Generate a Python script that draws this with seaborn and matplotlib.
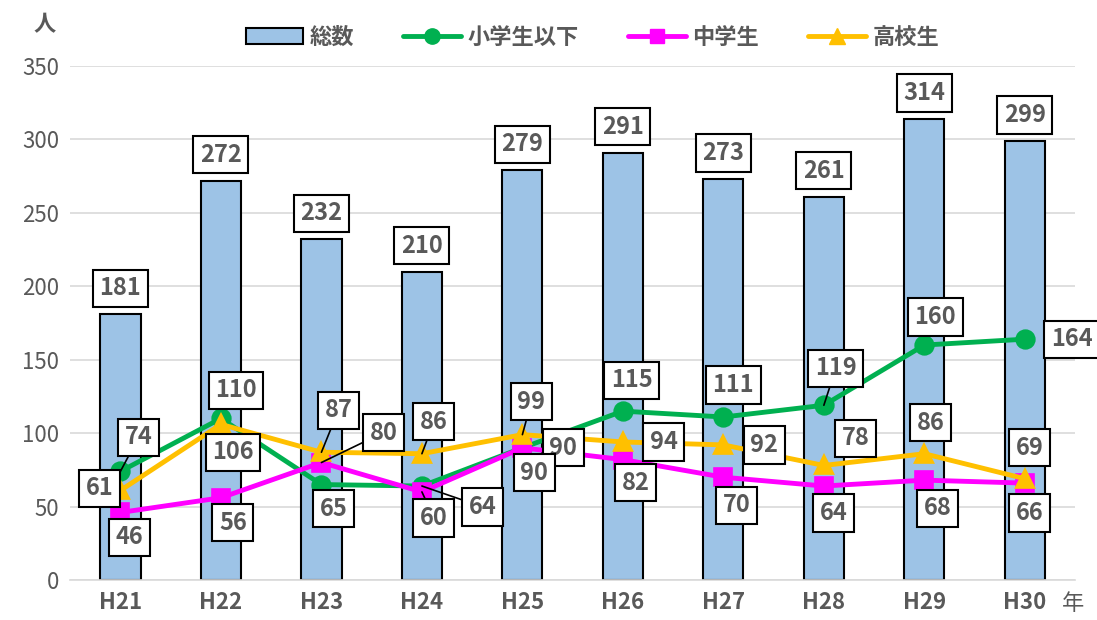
import matplotlib
matplotlib.use("Agg")
import matplotlib.pyplot as plt
import seaborn as sns
import pandas as pd
from matplotlib.patches import Patch
from matplotlib.lines import Line2D

# data
years = ["H21", "H22", "H23", "H24", "H25", "H26", "H27", "H28", "H29", "H30"]
total = [181, 272, 232, 210, 279, 291, 273, 261, 314, 299]
elem = [74, 110, 65, 64, 90, 115, 111, 119, 160, 164]      # 小学生以下
junior = [46, 56, 80, 60, 90, 82, 70, 64, 68, 66]          # 中学生
high = [61, 106, 87, 86, 99, 94, 92, 78, 86, 69]           # 高校生

# label offsets in pixels (dx, dy), and whether a leader line is drawn
elem_off = [(18, 34, True), (15, 28, False), (12, -24, False), (61, -21, True), (41, 0, False),
            (9, 31, False), (10, 32, False), (12, 37, True), (11, 28, False), (47, 0, False)]
high_off = [(-21, 2, False), (12, -28, False), (17, 42, True), (12, 32, True), (9, 33, True),
            (41, 0, False), (41, 0, False), (32, 27, False), (6, 31, False), (5, 31, False)]
junior_off = [(9, -25, False), (12, -25, False), (62, 30, True), (12, -26, True), (12, -25, False),
              (13, -23, False), (13, -28, False), (10, -27, False), (13, -28, False), (5, -30, False)]

sns.set_style("white")
plt.rcParams['font.family'] = ['Noto Sans CJK JP', 'DejaVu Sans']

gray = "#595959"
c_bar = "#9DC3E6"
c_elem = "#00B050"
c_jun = "#FF00FF"
c_high = "#FFC000"

fig = plt.figure(figsize=(10.97, 6.2), dpi=100)
ax = fig.add_axes([0.064, 0.0645, 0.916, 0.829])

df = pd.DataFrame({"year": years, "total": total})
sns.barplot(data=df, x="year", y="total", ax=ax, color=c_bar, width=0.4,
            edgecolor="black", linewidth=1.5, saturation=1, zorder=2)

for vals, col, mk, ms in [(elem, c_elem, "o", 12), (junior, c_jun, "s", 11), (high, c_high, "^", 12)]:
    sns.pointplot(x=years, y=vals, ax=ax, color=col, markers=mk, linestyles="-",
                  errorbar=None, markersize=ms, linewidth=3.5, zorder=4)

box = dict(boxstyle="square,pad=0.28", fc="white", ec="black", lw=1.5)
lbl = dict(ha="center", va="center", fontsize=17, fontweight="bold", color=gray,
           textcoords="offset pixels", bbox=box, zorder=6)

for i, v in enumerate(total):
    ax.annotate(str(v), xy=(i, v), xytext=(0, 26), **lbl)

for vals, offs in [(elem, elem_off), (high, high_off), (junior, junior_off)]:
    for i, (v, (dx, dy, lead)) in enumerate(zip(vals, offs)):
        ap = dict(arrowstyle="-", color="black", lw=1.2, shrinkA=0, shrinkB=0) if lead else None
        ax.annotate(str(v), xy=(i, v), xytext=(dx, dy), arrowprops=ap, **lbl)

ax.set_ylim(0, 350)
ax.set_xlim(-0.5, 9.5)
ax.set_yticks(range(0, 351, 50))
ax.yaxis.grid(True, color="#D9D9D9", lw=1.2, zorder=0)
ax.set_axisbelow(True)
ax.set_xlabel("")
ax.set_ylabel("")
for s in ["top", "right", "left"]:
    ax.spines[s].set_visible(False)
ax.spines["bottom"].set_color("#D9D9D9")
ax.spines["bottom"].set_linewidth(1.2)
ax.tick_params(axis="both", length=0, colors=gray, labelsize=16, pad=8)
for t in ax.get_xticklabels():
    t.set_fontweight("bold")

fig.text(0.041, 0.96, "人", fontsize=16, fontweight="bold", color=gray, ha="center", va="center")
fig.text(0.978, 0.027, "年", fontsize=16, color=gray, ha="center", va="center")

handles = [
    Patch(facecolor=c_bar, edgecolor="black", linewidth=1.5),
    Line2D([], [], color=c_elem, marker="o", lw=3.5, markersize=11),
    Line2D([], [], color=c_jun, marker="s", lw=3.5, markersize=10),
    Line2D([], [], color=c_high, marker="^", lw=3.5, markersize=11),
]
leg = fig.legend(handles, ["総数", "小学生以下", "中学生", "高校生"], loc="center",
                 bbox_to_anchor=(0.54, 0.94), ncol=4, frameon=False, fontsize=16,
                 handlelength=2.6, columnspacing=2.2, handletextpad=0.3)
for t in leg.get_texts():
    t.set_color(gray)
    t.set_fontweight("bold")

fig.savefig("out.png", dpi=100)
